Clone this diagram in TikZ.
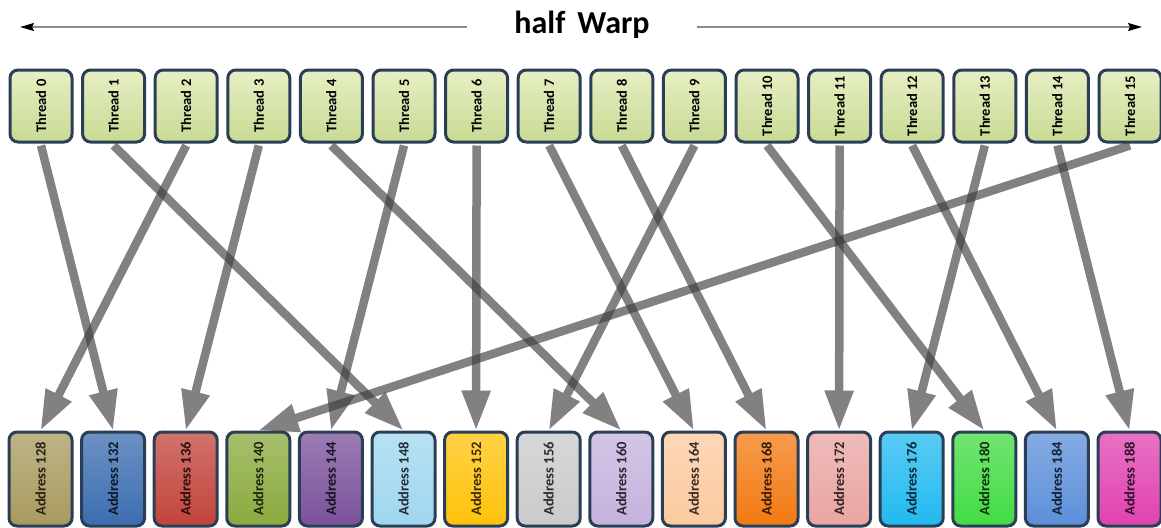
\documentclass[tikz,border=0pt]{standalone}
\usepackage{fontspec}
\setmainfont{Carlito}
\usepackage{graphicx}
\usetikzlibrary{arrows.meta}
\definecolor{boxedge}{HTML}{2A3F55}
\definecolor{thrtop}{HTML}{E6EFC4}
\definecolor{thrbot}{HTML}{C9DA93}
\definecolor{ac0}{HTML}{A89A5E}
\definecolor{ac1}{HTML}{3C6DB0}
\definecolor{ac2}{HTML}{C2433B}
\definecolor{ac3}{HTML}{8BAA3E}
\definecolor{ac4}{HTML}{7A519B}
\definecolor{ac5}{HTML}{9FD7EF}
\definecolor{ac6}{HTML}{FFC20A}
\definecolor{ac7}{HTML}{CACACA}
\definecolor{ac8}{HTML}{C4B2DD}
\definecolor{ac9}{HTML}{FBCA9F}
\definecolor{ac10}{HTML}{F27A12}
\definecolor{ac11}{HTML}{E9A5A2}
\definecolor{ac12}{HTML}{22B9F0}
\definecolor{ac13}{HTML}{42DC42}
\definecolor{ac14}{HTML}{5C8FD9}
\definecolor{ac15}{HTML}{E042B0}
\newcommand\vtext[1]{\rotatebox{90}{#1}}
\begin{document}
\begin{tikzpicture}[x=1pt,y=-1pt,
  threadbox/.style={draw=boxedge, line width=3pt, rounded corners=8pt,
    minimum width=62pt, minimum height=72pt, inner sep=0pt,
    top color=thrtop, bottom color=thrbot,
    font=\bfseries\fontsize{14.5}{15}\selectfont, text=black},
  addrbox/.style={draw=boxedge, line width=3pt, rounded corners=8pt,
    minimum width=63pt, minimum height=94pt, inner sep=0pt,
    top color=#1!75!white, bottom color=#1, text=#1!22!black,
    font=\bfseries\fontsize{14.5}{15}\selectfont},
  conn/.style={line width=8.5pt, draw=black!76,
    -{Triangle[length=40pt,width=27pt]}},
  warpline/.style={draw=black!45, line width=1.6pt,
    -{Stealth[length=14pt,width=8pt,inset=2pt,black]}},
  titlestyle/.style={font=\bfseries\fontsize{32}{33}\selectfont,
    inner xsep=47pt, inner ysep=2pt, anchor=base}
]
\useasboundingbox (0,0) rectangle (1161,527);

% title and warp lines
\node[titlestyle] (title) at (582,34) {half\hspace{12pt}Warp};
\coordinate (lend) at (20,27);
\coordinate (rend) at (1142,27);
\draw[warpline] (title.west |- lend) -- (lend);
\draw[warpline] (title.east |- rend) -- (rend);

% thread boxes
\foreach \i in {0,...,15} {
  \node[threadbox] (t\i) at ({41+72.6*\i},106) {\vtext{Thread \i}};
}
% address boxes
\foreach \i in {0,...,15} {
  \pgfmathtruncatemacro\addr{128+4*\i}
  \node[addrbox=ac\i] (a\i) at ({40.5+72.6*\i},479) {\vtext{Address \addr}};
}

% connectors
\foreach \s/\d in {0/1,1/5,2/0,3/2,4/8,5/4,6/6,7/9,8/10,9/7,10/13,11/11,12/14,13/12,14/15,15/3} {
  \begin{scope}[transparency group, opacity=0.65]
    \draw[conn] ([yshift=-2pt]t\s.south) -- (a\d.north);
  \end{scope}
}
\end{tikzpicture}
\end{document}
